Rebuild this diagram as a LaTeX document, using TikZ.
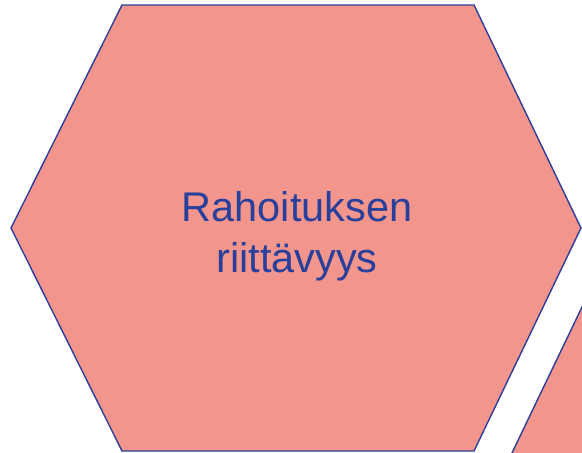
\documentclass[tikz,border=0pt]{standalone}
\usepackage{fontspec}
\setmainfont{Liberation Sans}
\usepackage{tikz}
\usetikzlibrary{positioning}
\definecolor{hexfill}{RGB}{242,149,141}
\definecolor{hexline}{RGB}{47,62,150}
\definecolor{labelblue}{RGB}{40,64,155}

\begin{document}
\begin{tikzpicture}[x=0.02cm, y=-0.02cm,
    hexcell/.style={fill=hexfill, draw=hexline, line width=0.8pt, line join=miter},
    celltext/.style={font=\fontsize{23.6}{29}\selectfont, text=labelblue, align=center, inner sep=0pt}]
                % frame of the slide cut-out
                \useasboundingbox (0,0) rectangle (582,453);
                \clip (0,0) rectangle (582,453);

                % main cell
                \draw[hexcell] (11,228) -- (122,5) -- (474,5) -- (581,228) -- (474,451) -- (122,451) -- cycle;
                % neighbour cell, lower right (mostly outside)
                \draw[hexcell] (511,455) -- (618,232) -- (970,232) -- (1077,455) -- (970,678) -- (618,678) -- cycle;

                \node[celltext] (rahoitus) at (297,236) {Rahoituksen\\riittävyys};
            \end{tikzpicture}
\end{document}
